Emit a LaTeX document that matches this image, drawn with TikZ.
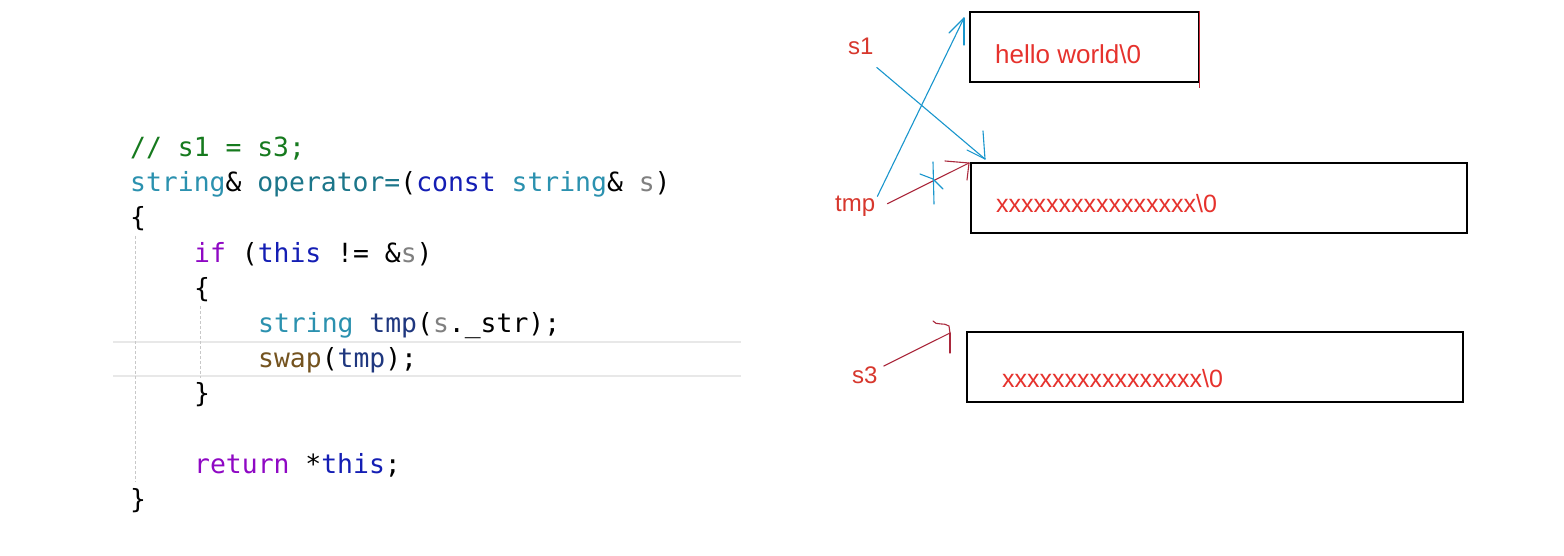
\documentclass[tikz,border=0pt]{standalone}
\usepackage{fontspec}
\setmainfont{Liberation Sans}
\setmonofont{DejaVu Sans Mono}
\usepackage{xcolor}
\usetikzlibrary{positioning}
\definecolor{CodeGreen}{RGB}{22,122,30}
\definecolor{TypeTeal}{RGB}{43,145,175}
\definecolor{FuncTeal}{RGB}{28,118,138}
\definecolor{KeyBlue}{RGB}{20,30,180}
\definecolor{ParamGray}{RGB}{128,128,128}
\definecolor{CtrlPurple}{RGB}{143,8,196}
\definecolor{LocalNavy}{RGB}{31,55,127}
\definecolor{CallBrown}{RGB}{116,83,31}
\definecolor{PenCyan}{RGB}{25,150,205}
\definecolor{PenRed}{RGB}{170,40,60}
\definecolor{EdgeRed}{RGB}{205,40,55}
\definecolor{TextRed}{RGB}{230,50,45}
\definecolor{InkRed}{RGB}{215,55,45}
\definecolor{GuideGray}{RGB}{200,200,200}
\definecolor{RowGray}{RGB}{232,232,232}

\begin{document}
\begin{tikzpicture}[
  x=1pt, y=-1pt,
  codeline/.style={anchor=base west, inner sep=0pt, font=\ttfamily\fontsize{26.4pt}{30pt}\selectfont},
  inklabel/.style={anchor=base west, inner sep=0pt, text=InkRed, font=\fontsize{24pt}{28pt}\selectfont},
  celltext/.style={anchor=base west, inner sep=0pt, text=TextRed, font=\fontsize{25pt}{30pt}\selectfont},
  membox/.style={draw=black, line width=1.3pt, inner sep=0pt, minimum height=70pt},
  cyanpen/.style={draw=PenCyan, line width=1.1pt, line cap=round},
  redpen/.style={draw=PenRed, line width=1.1pt, line cap=round},
  guide/.style={draw=GuideGray, line width=1pt, dash pattern=on 3pt off 2pt},
  rowline/.style={draw=RowGray, line width=2pt}
]
\fill[white] (0,0) rectangle (1564,556);
\useasboundingbox (0,0) rectangle (1564,556);

% editor background
\draw[rowline] (113,342) -- (741,342);
\draw[rowline] (113,376) -- (741,376);
\draw[guide] (135,236) -- (135,482);
\draw[guide] (200,306) -- (200,378);

% code
\node[codeline] (c1) at (130,157) {\textcolor{CodeGreen}{// s1 = s3;}};
\node[codeline] (c2) at (130,192) {\textcolor{TypeTeal}{string}\& \textcolor{FuncTeal}{operator=}(\textcolor{KeyBlue}{const} \textcolor{TypeTeal}{string}\& \textcolor{ParamGray}{s})};
\node[codeline] (c3) at (130,227) {\{};
\node[codeline] (c4) at (194,262) {\textcolor{CtrlPurple}{if} (\textcolor{KeyBlue}{this} != \&\textcolor{ParamGray}{s})};
\node[codeline] (c5) at (194,297) {\{};
\node[codeline] (c6) at (258,332) {\textcolor{TypeTeal}{string} \textcolor{LocalNavy}{tmp}(\textcolor{ParamGray}{s}.\_str);};
\node[codeline] (c7) at (258,367) {\textcolor{CallBrown}{swap}(\textcolor{LocalNavy}{tmp});};
\node[codeline] (c8) at (194,402) {\}};
\node[codeline] (c10) at (194,473) {\textcolor{CtrlPurple}{return} *\textcolor{KeyBlue}{this};};
\node[codeline] (c11) at (130,508) {\}};

% memory boxes
\node[membox, minimum width=229pt] (hellobox) at (1084.5,47) {};
\node[membox, minimum width=496pt] (tmpbox) at (1219,198) {};
\node[membox, minimum width=496pt] (srcbox) at (1215,367) {};
\node[celltext, font=\fontsize{26pt}{30pt}\selectfont] (hellostr) at (995,64) {hello world\textbackslash 0};
\node[celltext] (tmpstr) at (996,213) {xxxxxxxxxxxxxxxx\textbackslash 0};
\node[celltext] (srcstr) at (1002,387) {xxxxxxxxxxxxxxxx\textbackslash 0};
\draw[draw=EdgeRed, line width=1.6pt] (hellobox.north east) -- ([yshift=-5pt]hellobox.south east);

% pointers
\node[inklabel] (s1) at (848,55) {s1};
\node[inklabel] (tmp) at (835,212) {tmp};
\node[inklabel] (s3) at (852,383) {s3};
\coordinate (tipA) at (964,18);
\coordinate (tipB) at (985,159);
\coordinate (tipC) at (969,163);
\coordinate (tipD) at (950,333);

\draw[cyanpen] ([xshift=2pt]tmp.north east) -- (tipA);
\draw[cyanpen] (tipA) -- ++(-15,15);
\draw[cyanpen] (tipA) -- ++(0,27);
\draw[cyanpen] ([xshift=3pt,yshift=-12pt]s1.south east) -- (tipB);
\draw[cyanpen] (tipB) -- ++(-18,-9);
\draw[cyanpen] (tipB) -- ++(-2,-28);
\draw[redpen] ([xshift=12pt,yshift=3pt]tmp.east) -- (tipC);
\draw[redpen] (tipC) -- ++(-24,-2);
\draw[redpen] (tipC) -- ++(-2,17);
\draw[redpen] ([xshift=6pt]s3.north east) -- (tipD);
\draw[redpen] (tipD) -- ++(0,20);
\draw[redpen] (tipD) -- (949,326) .. controls (944,322) and (936,326) .. (933,321);
% crossed out
\draw[cyanpen] (933,162) -- (934,204);
\draw[cyanpen] (920,174) -- (933,179) -- (943,189);
\end{tikzpicture}
\end{document}
